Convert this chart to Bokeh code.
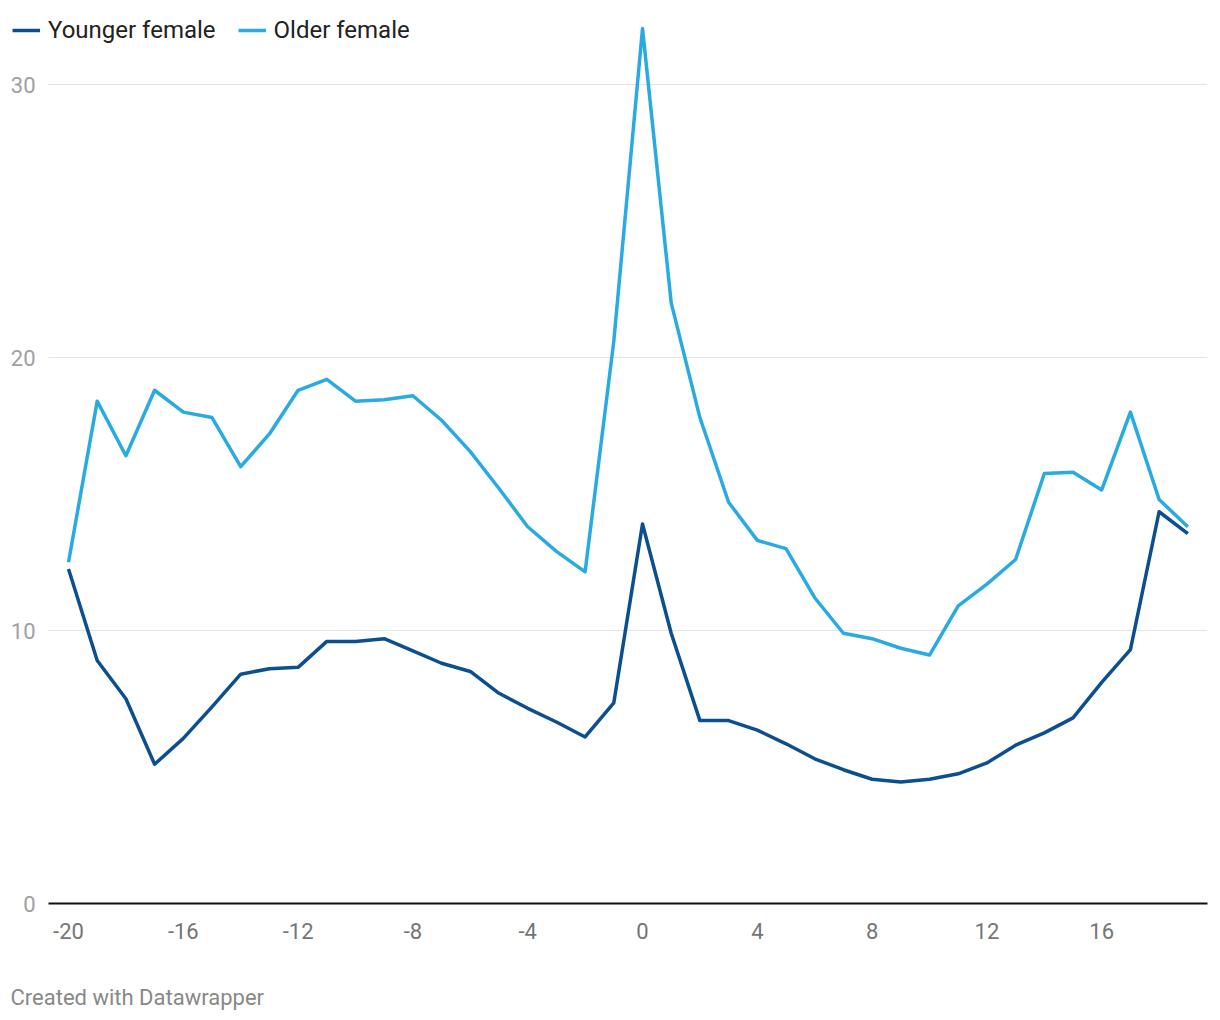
from bokeh.plotting import figure
from bokeh.models import ColumnDataSource, Legend, LegendItem, FixedTicker, Range1d, Title
from bokeh.embed import file_html
from bokeh.resources import INLINE

years = list(range(-20, 20))
younger = [12.25, 8.9, 7.5, 5.1, 6.05, 7.2, 8.4, 8.6, 8.65, 9.6,
           9.6, 9.7, 9.25, 8.8, 8.5, 7.7, 7.15, 6.65, 6.1, 7.35,
           13.9, 9.9, 6.7, 6.7, 6.35, 5.85, 5.3, 4.9, 4.55, 4.45,
           4.55, 4.75, 5.15, 5.8, 6.25, 6.8, 8.1, 9.3, 14.35, 13.55]
older = [12.5, 18.4, 16.4, 18.8, 18.0, 17.8, 16.0, 17.2, 18.8, 19.2,
         18.4, 18.45, 18.6, 17.7, 16.55, 15.2, 13.8, 12.9, 12.15, 20.6,
         32.05, 22.0, 17.8, 14.7, 13.3, 13.0, 11.2, 9.9, 9.7, 9.35,
         9.1, 10.9, 11.7, 12.6, 15.75, 15.8, 15.15, 18.0, 14.8, 13.8]
x_ticks = [-20, -16, -12, -8, -4, 0, 4, 8, 12, 16]
y_ticks = [0, 10, 20, 30]
series_names = ["Younger female", "Older female"]
colors = ["#0b4f8f", "#29abe2"]

src = ColumnDataSource(dict(x=years, younger=younger, older=older))

X0, X1 = -22.021, 19.686
XA = -20.697  # where axis line / gridlines begin
p = figure(width=1210, height=1012, output_backend="svg", toolbar_location=None,
           x_range=Range1d(X0, X1), y_range=Range1d(0, 33.077),
           min_border_left=10, min_border_right=3, min_border_top=0, min_border_bottom=109)
p.outline_line_color = None
p.background_fill_color = "white"
p.border_fill_color = "white"

r1 = p.line("x", "younger", source=src, line_color=colors[0], line_width=3.5, line_join="round")
r2 = p.line("x", "older", source=src, line_color=colors[1], line_width=3.5, line_join="round")

# axes
p.xaxis.ticker = FixedTicker(ticks=x_ticks)
p.yaxis.ticker = FixedTicker(ticks=y_ticks)
p.xaxis.major_label_overrides = {t: str(t) for t in x_ticks}
p.xaxis.bounds = (XA, X1)
p.xgrid.visible = False
p.ygrid.grid_line_color = "#e3e3e3"
p.ygrid.grid_line_width = 1
try:
    p.ygrid.cross_bounds = (XA, X1)
except Exception as e:
    print("cross_bounds unavailable:", e)

for ax in [p.xaxis[0], p.yaxis[0]]:
    ax.major_tick_line_color = None
    ax.minor_tick_line_color = None
    ax.major_label_text_font = "Roboto"
    ax.major_label_text_font_size = "22px"

p.yaxis.axis_line_color = None
p.yaxis.major_label_text_color = "#a0a0a0"
p.yaxis.major_label_standoff = -31
p.xaxis.axis_line_color = "#111111"
p.xaxis.axis_line_width = 2
p.xaxis.major_label_text_color = "#757575"
p.xaxis.major_label_standoff = 13

legend = Legend(items=[LegendItem(label=series_names[0], renderers=[r1]),
                       LegendItem(label=series_names[1], renderers=[r2])],
                orientation="horizontal", location=(2, 859),
                label_text_font="Roboto", label_text_font_size="24px",
                label_text_color="#222222", glyph_width=28, glyph_height=24,
                label_standoff=8, spacing=22, padding=0, margin=0,
                background_fill_alpha=0, border_line_color=None)
p.add_layout(legend, "center")

spacer = Title(text=" ", text_font_size="1px", standoff=38)
p.add_layout(spacer, "below")
credit = Title(text="Created with Datawrapper", align="left", text_font="Roboto",
               text_font_size="22px", text_color="#888888", text_font_style="normal",
               offset=0, standoff=0)
p.add_layout(credit, "below")

open("out.html", "w").write(file_html(p, INLINE))
